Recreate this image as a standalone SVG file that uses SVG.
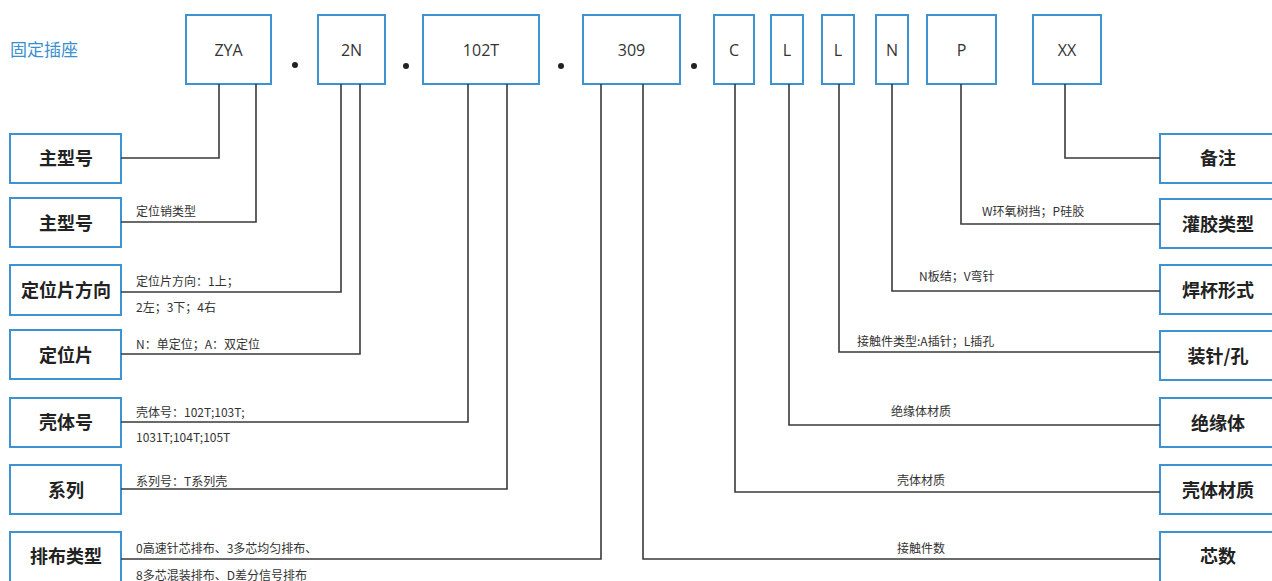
<svg xmlns="http://www.w3.org/2000/svg" width="1272" height="581" viewBox="0 0 1272 581">
<style>
.box{fill:#fff;stroke:#3d93d2;stroke-width:2}
.code{font-family:"Open Sans","Liberation Sans",sans-serif;font-size:16px;fill:#333;text-anchor:middle}
.name{font-family:"Noto Sans CJK SC",sans-serif;font-size:18px;font-weight:bold;fill:#222;text-anchor:middle}
.lbl{font-family:"Noto Sans CJK SC",sans-serif;font-size:12px;fill:#333}
.mid{text-anchor:middle}
.wire{fill:none;stroke:#3a3a3a;stroke-width:1.6}
.dot{fill:#222}
</style>
<rect width="1272" height="581" fill="#fff"/>
<text x="10" y="56" style="font-family:'Noto Sans CJK SC',sans-serif;font-size:17px;fill:#3a8fcf">固定插座</text>
<g id="top">
<g id="t-zya"><rect class="box" x="186" y="15" width="85" height="69"/><text class="code" x="228.5" y="56">ZYA</text></g>
<circle class="dot" cx="295" cy="65" r="3"/>
<g id="t-2n"><rect class="box" x="318" y="15" width="67" height="69"/><text class="code" x="351.5" y="56">2N</text></g>
<circle class="dot" cx="406" cy="66" r="3"/>
<g id="t-102t"><rect class="box" x="423" y="15" width="116" height="69"/><text class="code" x="481" y="56">102T</text></g>
<circle class="dot" cx="561" cy="66" r="3"/>
<g id="t-309"><rect class="box" x="583" y="15" width="97" height="69"/><text class="code" x="631.5" y="56">309</text></g>
<circle class="dot" cx="694" cy="66" r="3"/>
<g id="t-c"><rect class="box" x="714" y="15" width="40" height="69"/><text class="code" x="734" y="56">C</text></g>
<g id="t-l1"><rect class="box" x="771" y="15" width="32" height="69"/><text class="code" x="787" y="56">L</text></g>
<g id="t-l2"><rect class="box" x="822" y="15" width="32" height="69"/><text class="code" x="838" y="56">L</text></g>
<g id="t-n"><rect class="box" x="876" y="15" width="32" height="69"/><text class="code" x="892" y="56">N</text></g>
<g id="t-p"><rect class="box" x="927" y="15" width="69" height="69"/><text class="code" x="961.5" y="56">P</text></g>
<g id="t-xx"><rect class="box" x="1033" y="15" width="68" height="69"/><text class="code" x="1067" y="56">XX</text></g>
</g>
<g id="left">
<g id="l1"><rect class="box" x="10" y="134" width="111" height="49"/><text class="name" x="66" y="165">主型号</text></g>
<g id="l2"><rect class="box" x="10" y="198" width="111" height="49"/><text class="name" x="66" y="230">主型号</text></g>
<g id="l3"><rect class="box" x="10" y="265" width="111" height="50"/><text class="name" x="66" y="297">定位片方向</text></g>
<g id="l4"><rect class="box" x="10" y="330" width="111" height="49"/><text class="name" x="66" y="362">定位片</text></g>
<g id="l5"><rect class="box" x="10" y="398" width="111" height="49"/><text class="name" x="66" y="429">壳体号</text></g>
<g id="l6"><rect class="box" x="10" y="465" width="111" height="49"/><text class="name" x="66" y="497">系列</text></g>
<g id="l7"><rect class="box" x="10" y="532" width="111" height="52"/><text class="name" x="66" y="563">排布类型</text></g>
</g>
<g id="right">
<g id="r1"><rect class="box" x="1160" y="134" width="115" height="49"/><text class="name" x="1218" y="165">备注</text></g>
<g id="r2"><rect class="box" x="1160" y="199" width="115" height="49"/><text class="name" x="1218" y="231">灌胶类型</text></g>
<g id="r3"><rect class="box" x="1160" y="265" width="115" height="49"/><text class="name" x="1218" y="297">焊杯形式</text></g>
<g id="r4"><rect class="box" x="1160" y="331" width="115" height="49"/><text class="name" x="1218" y="363">装针/孔</text></g>
<g id="r5"><rect class="box" x="1160" y="398" width="115" height="49"/><text class="name" x="1218" y="430">绝缘体</text></g>
<g id="r6"><rect class="box" x="1160" y="465" width="115" height="49"/><text class="name" x="1218" y="497">壳体材质</text></g>
<g id="r7"><rect class="box" x="1160" y="532" width="115" height="52"/><text class="name" x="1218" y="563">芯数</text></g>
</g>
<g id="connectors">
<polyline class="wire" points="219,84 219,158 121,158"/>
<polyline class="wire" points="256,84 256,222 121,222"/>
<polyline class="wire" points="341,84 341,292 121,292"/>
<polyline class="wire" points="360,84 360,354 121,354"/>
<polyline class="wire" points="468,84 468,422 121,422"/>
<polyline class="wire" points="507,84 507,489 121,489"/>
<polyline class="wire" points="601,84 601,559 121,559"/>
<polyline class="wire" points="643,84 643,559 1160,559"/>
<polyline class="wire" points="735,84 735,492 1160,492"/>
<polyline class="wire" points="789,84 789,425 1160,425"/>
<polyline class="wire" points="839,84 839,352 1160,352"/>
<polyline class="wire" points="892,84 892,291 1160,291"/>
<polyline class="wire" points="961,84 961,224 1160,224"/>
<polyline class="wire" points="1065,84 1065,158 1160,158"/>
</g>
<g id="labels">
<text class="lbl" x="136" y="216">定位销类型</text>
<text class="lbl" x="136" y="286">定位片方向：1上；</text>
<text class="lbl" x="136" y="312">2左；3下；4右</text>
<text class="lbl" x="136" y="349">N：单定位；A：双定位</text>
<text class="lbl" x="136" y="417">壳体号：102T;103T;</text>
<text class="lbl" x="136" y="442">1031T;104T;105T</text>
<text class="lbl" x="136" y="486">系列号：T系列壳</text>
<text class="lbl" x="136" y="553">0高速针芯排布、3多芯均匀排布、</text>
<text class="lbl" x="136" y="580">8多芯混装排布、D差分信号排布</text>
<text class="lbl" x="982" y="216">W环氧树挡；P硅胶</text>
<text class="lbl" x="919" y="281">N板结；V弯针</text>
<text class="lbl" x="857" y="346">接触件类型:A插针；L插孔</text>
<text class="lbl mid" x="921" y="416">绝缘体材质</text>
<text class="lbl mid" x="921" y="485">壳体材质</text>
<text class="lbl mid" x="921" y="553">接触件数</text>
</g>
</svg>
